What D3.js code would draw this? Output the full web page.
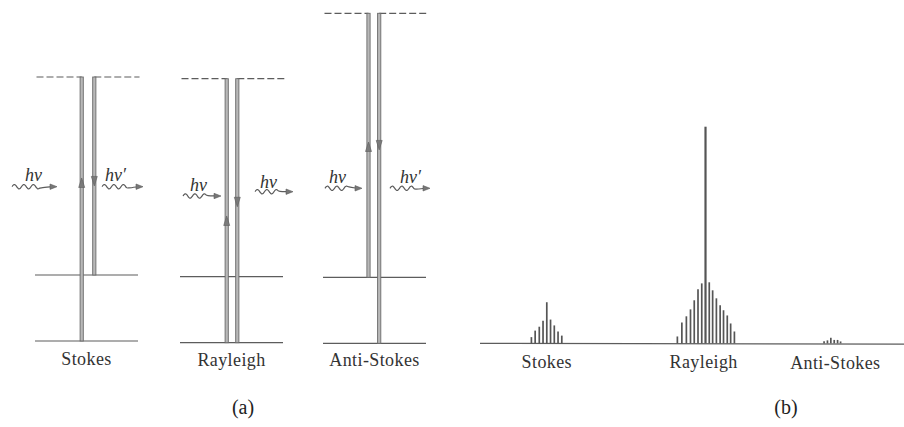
<!DOCTYPE html>
<html>
<head>
<meta charset="utf-8">
<script src="https://cdn.jsdelivr.net/npm/d3@7"></script>
<style>
  html, body { margin: 0; padding: 0; background: #fff; }
  svg { display: block; }
  text { font-family: "Liberation Serif", "Times New Roman", serif; }
</style>
</head>
<body>
<svg id="chart" width="904" height="427"></svg>
<script>
// ---------- (a) energy-level diagrams (energies in vibrational quanta) ----------
const processes     = ["Stokes", "Rayleigh", "Anti-Stokes"];
const initialLevel  = [0, 0, 1];      // level the molecule starts in
const virtualLevel  = [4, 4, 5];      // virtual level reached by the incident photon
const finalLevel    = [1, 0, 0];      // level the molecule ends in
const incidentLabel = ["hν", "hν", "hν"];
const scatteredLabel = ["hν′", "hν", "hν′"];
const realLevels    = [0, 1];         // ground and first vibrational level
// where the arrowheads sit along each transition (energy units)
const upArrowAt     = [2.47, 1.92, 3.05];
const downArrowAt   = [2.35, 2.06, 2.93];

// ---------- (b) scattered spectrum: shift vs relative intensity ----------
const stokesShift      = [-46.4, -45.4, -44.3, -43.3, -42.3, -41.3, -40.3, -39.3, -38.3];
const stokesIntensity  = [2.9, 5.9, 7.7, 10.5, 19.0, 11.0, 8.3, 5.5, 3.6];
const rayleighShift     = [-7.5, -6.3, -5.1, -4.0, -3.0, -2.0, -1.0, 0, 1.0, 1.9, 2.9, 3.9, 4.8, 5.8, 6.7, 7.7];
const rayleighIntensity = [3.2, 9.7, 12.5, 15.7, 19.9, 25.0, 27.7, 100, 28.2, 24.5, 20.8, 17.6, 15.3, 12.9, 9.2, 5.5];
const antiStokesShift     = [31.6, 32.5, 33.4, 34.3, 35.2, 36.0];
const antiStokesIntensity = [1.0, 1.4, 2.6, 1.6, 1.6, 0.9];
const peakLabels = ["Stokes", "Rayleigh", "Anti-Stokes"];
const peakLabelShift = [-42.3, -0.5, 34.6];
const panelLabels = ["(a)", "(b)"];

// ---------- layout ----------
const svg = d3.select("#chart");
const ink = "#5c5c5c";
const textInk = "#333";

const diag = {
  cx:      [86.5, 231.5, 374.5],
  dy:      [-1, 0.7, 1.3],
  upDx:    [-4.8, -4.8, -6],
  downDx:  [7.8, 5.8, 4.7],
  photonIn:  [{x0: 12, x1: 57, y: 186.7, lx: 25, ly: 181},
              {x0: 183, x1: 221, y: 196, lx: 190, ly: 191},
              {x0: 325, x1: 362, y: 188.3, lx: 329, ly: 183}],
  photonOut: [{x0: 102, x1: 143, y: 186.7, lx: 105, ly: 181},
              {x0: 255, x1: 293, y: 191.7, lx: 260, ly: 187.5},
              {x0: 390, x1: 430, y: 188.3, lx: 400, ly: 183}]
};

const yE = d3.scaleLinear().domain([0, 5]).range([342, 12]);

const gA = svg.append("g");

// wavy photon arrow
function photon(g, p) {
  const waveEnd = p.x0 + (p.x1 - p.x0) * 0.62;
  const pts = d3.range(p.x0, waveEnd + 0.01, 0.5).map(x => [x, p.y - 2.2 * Math.sin((x - p.x0) / 9.5 * 2 * Math.PI)]);
  pts.push([p.x1 - 5, p.y]);
  g.append("path")
    .attr("d", d3.line().curve(d3.curveBasis)(pts))
    .attr("fill", "none").attr("stroke", ink).attr("stroke-width", 1.2);
  g.append("path")
    .attr("d", `M${p.x1},${p.y} L${p.x1 - 7},${p.y - 2.7} L${p.x1 - 7},${p.y + 2.7} Z`)
    .attr("fill", "#777").attr("stroke", ink).attr("stroke-width", 0.6);
}

// hollow (double) vertical transition line
function transition(g, x, e0, e1) {
  const ya = yE(Math.max(e0, e1)), yb = yE(Math.min(e0, e1));
  g.append("rect")
    .attr("x", x - 1.6).attr("y", ya).attr("width", 3.2).attr("height", yb - ya)
    .attr("fill", "#b8b8b8").attr("stroke", "#6a6a6a").attr("stroke-width", 0.9);
}

function arrowHead(g, x, e, up) {
  const y = yE(e);
  const s = up ? 1 : -1;
  g.append("path")
    .attr("d", `M${x},${y} L${x - 3},${y + s * 9.5} L${x + 3},${y + s * 9.5} Z`)
    .attr("fill", "#7a7a7a").attr("stroke", ink).attr("stroke-width", 0.6);
}

processes.forEach((name, i) => {
  const cx = diag.cx[i];
  const g = gA.append("g").attr("transform", `translate(0,${diag.dy[i]})`);
  const upX = cx + diag.upDx[i], downX = cx + diag.downDx[i];

  // real vibrational levels
  realLevels.forEach(lv => {
    g.append("line")
      .attr("x1", cx - 51.5).attr("x2", cx + 51.5)
      .attr("y1", yE(lv)).attr("y2", yE(lv))
      .attr("stroke", ink).attr("stroke-width", 1.2);
  });

  // virtual level (dashed), broken between the two transitions
  const vy = yE(virtualLevel[i]);
  [[cx - 50, upX], [downX, cx + 53]].forEach(([a, b]) => {
    g.append("line")
      .attr("x1", a).attr("x2", b).attr("y1", vy).attr("y2", vy)
      .attr("stroke", ink).attr("stroke-width", 1.2)
      .attr("stroke-dasharray", "7,3");
  });

  transition(g, upX, initialLevel[i], virtualLevel[i]);
  transition(g, downX, virtualLevel[i], finalLevel[i]);
  arrowHead(g, upX, upArrowAt[i], true);
  arrowHead(g, downX, downArrowAt[i], false);

  // photons
  photon(gA, diag.photonIn[i]);
  photon(gA, diag.photonOut[i]);
  gA.append("text").attr("x", diag.photonIn[i].lx).attr("y", diag.photonIn[i].ly)
    .attr("font-size", 18).attr("font-style", "italic").attr("fill", textInk)
    .text(incidentLabel[i]);
  gA.append("text").attr("x", diag.photonOut[i].lx).attr("y", diag.photonOut[i].ly)
    .attr("font-size", 18).attr("font-style", "italic").attr("fill", textInk)
    .text(scatteredLabel[i]);

  // process name
  gA.append("text").attr("x", cx).attr("y", 365.5 + diag.dy[i] * 0.5)
    .attr("text-anchor", "middle").attr("font-size", 18)
    .attr("letter-spacing", 0.4).attr("fill", textInk)
    .text(name);
});

// ---------- (b) spectrum ----------
const x = d3.scaleLinear().domain([-60.1, 52.9]).range([480, 904]);
const y = d3.scaleLinear().domain([0, 100]).range([343.4, 126.7]);
const gB = svg.append("g");

gB.append("line")
  .attr("x1", x.range()[0]).attr("x2", x.range()[1])
  .attr("y1", y(0)).attr("y2", y(0) + 0.8)
  .attr("stroke", ink).attr("stroke-width", 1.3);

const bands = [
  {shift: stokesShift, inten: stokesIntensity},
  {shift: rayleighShift, inten: rayleighIntensity},
  {shift: antiStokesShift, inten: antiStokesIntensity}
];
bands.forEach(b => {
  gB.selectAll(null)
    .data(b.shift.map((s, k) => ({s, v: b.inten[k]})))
    .join("line")
    .attr("x1", d => x(d.s)).attr("x2", d => x(d.s))
    .attr("y1", y(0)).attr("y2", d => y(d.v))
    .attr("stroke", "#555")
    .attr("stroke-width", d => d.v > 50 ? 2.2 : 1.7);
});

peakLabels.forEach((t, i) => {
  gB.append("text")
    .attr("x", x(peakLabelShift[i])).attr("y", 367.5 + i * 0.7)
    .attr("text-anchor", "middle").attr("font-size", 18)
    .attr("letter-spacing", 0.4).attr("fill", textInk)
    .text(t);
});

// panel captions
[[243, panelLabels[0]], [786, panelLabels[1]]].forEach(([px, t]) => {
  svg.append("text").attr("x", px).attr("y", 414)
    .attr("text-anchor", "middle").attr("font-size", 20).attr("fill", "#222")
    .text(t);
});
</script>
</body>
</html>
